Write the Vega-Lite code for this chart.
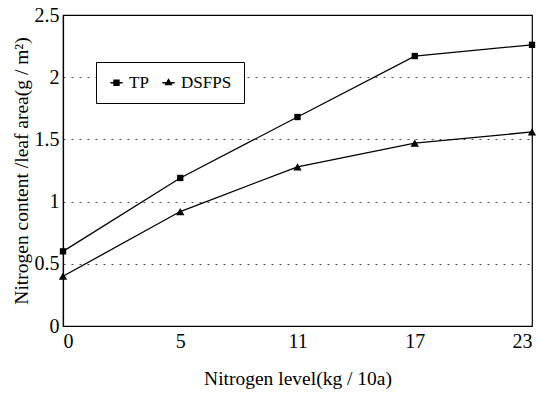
{
  "$schema": "https://vega.github.io/schema/vega-lite/v6.json",
  "autosize": "none",
  "width": 469,
  "height": 311,
  "padding": {"left": 63, "top": 15, "right": 7, "bottom": 79},
  "background": "white",
  "config": {
    "view": {"stroke": "black", "strokeWidth": 1.2},
    "font": "'Liberation Serif', 'Times New Roman', serif"
  },
  "data": {
    "values": [
      {"N": "0", "series": "TP", "value": 0.60},
      {"N": "5", "series": "TP", "value": 1.19},
      {"N": "11", "series": "TP", "value": 1.68},
      {"N": "17", "series": "TP", "value": 2.17},
      {"N": "23", "series": "TP", "value": 2.26},
      {"N": "0", "series": "DSFPS", "value": 0.40},
      {"N": "5", "series": "DSFPS", "value": 0.92},
      {"N": "11", "series": "DSFPS", "value": 1.28},
      {"N": "17", "series": "DSFPS", "value": 1.47},
      {"N": "23", "series": "DSFPS", "value": 1.56}
    ]
  },
  "encoding": {
    "x": {
      "field": "N", "type": "ordinal", "sort": ["0", "5", "11", "17", "23"],
      "scale": {"type": "point", "padding": 0},
      "axis": {
        "title": "Nitrogen level(kg / 10a)", "labelAngle": 0,
        "labelFont": "'Liberation Serif', 'Times New Roman', serif", "labelFontSize": 20, "labelColor": "black",
        "titleFont": "'Liberation Serif', 'Times New Roman', serif", "titleFontSize": 19.5, "titleFontWeight": "normal", "titleColor": "black",
        "titlePadding": 18, "labelPadding": 5, "tickSize": 0, "labelFlush": true,
        "domainColor": "black", "domainWidth": 1.2, "grid": false
      }
    },
    "y": {
      "field": "value", "type": "quantitative",
      "scale": {"domain": [0, 2.5], "nice": false, "zero": true},
      "axis": {
        "title": "Nitrogen content /leaf area(g / m²)",
        "values": [0, 0.5, 1, 1.5, 2, 2.5], "format": ".1~f",
        "labelFont": "'Liberation Serif', 'Times New Roman', serif", "labelFontSize": 20, "labelColor": "black",
        "titleFont": "'Liberation Serif', 'Times New Roman', serif", "titleFontSize": 19.5, "titleFontWeight": "normal", "titleColor": "black",
        "titlePadding": 3, "labelPadding": 4, "tickSize": 0,
        "domainColor": "black", "domainWidth": 1.2,
        "grid": true, "gridColor": "black", "gridDash": [2, 6], "gridWidth": 1, "gridOpacity": 0.7
      }
    }
  },
  "layer": [
    {
      "mark": {"type": "line", "color": "black", "strokeWidth": 1.3},
      "encoding": {"detail": {"field": "series"}}
    },
    {
      "mark": {"type": "point", "filled": true, "color": "black", "opacity": 1},
      "encoding": {
        "shape": {
          "field": "series", "type": "nominal",
          "scale": {"domain": ["TP", "DSFPS"], "range": ["square", "triangle-up"]},
          "legend": null
        },
        "size": {
          "field": "series", "type": "nominal",
          "scale": {"domain": ["TP", "DSFPS"], "range": [40, 70]},
          "legend": null
        }
      }
    },
    {
      "mark": {"type": "point", "filled": true, "color": "black", "stroke": "black", "strokeWidth": 1.2, "opacity": 0},
      "encoding": {
        "shape": {
          "field": "series", "type": "nominal",
          "scale": {"domain": ["TP", "DSFPS"], "range": [
            "M-1,0H1M-0.4,-0.4H0.4V0.4H-0.4Z",
            "M-1,0H1M0,-0.5L0.45,0.3H-0.45Z"
          ]},
          "legend": {
            "title": null, "orient": "none", "legendX": 33, "legendY": 47,
            "direction": "horizontal", "strokeColor": "black", "fillColor": "white",
            "padding": 12, "columnPadding": 10, "symbolSize": 150,
            "labelFont": "'Liberation Serif', 'Times New Roman', serif", "labelFontSize": 17, "labelColor": "black",
            "labelOffset": 4,
            "encode": {"symbols": {"update": {"opacity": {"value": 1}, "fill": {"value": "black"}, "stroke": {"value": "black"}, "strokeWidth": {"value": 1.2}}}}
          }
        }
      }
    }
  ],
  "resolve": {"scale": {"shape": "independent", "size": "independent"}, "legend": {"shape": "independent"}}
}
